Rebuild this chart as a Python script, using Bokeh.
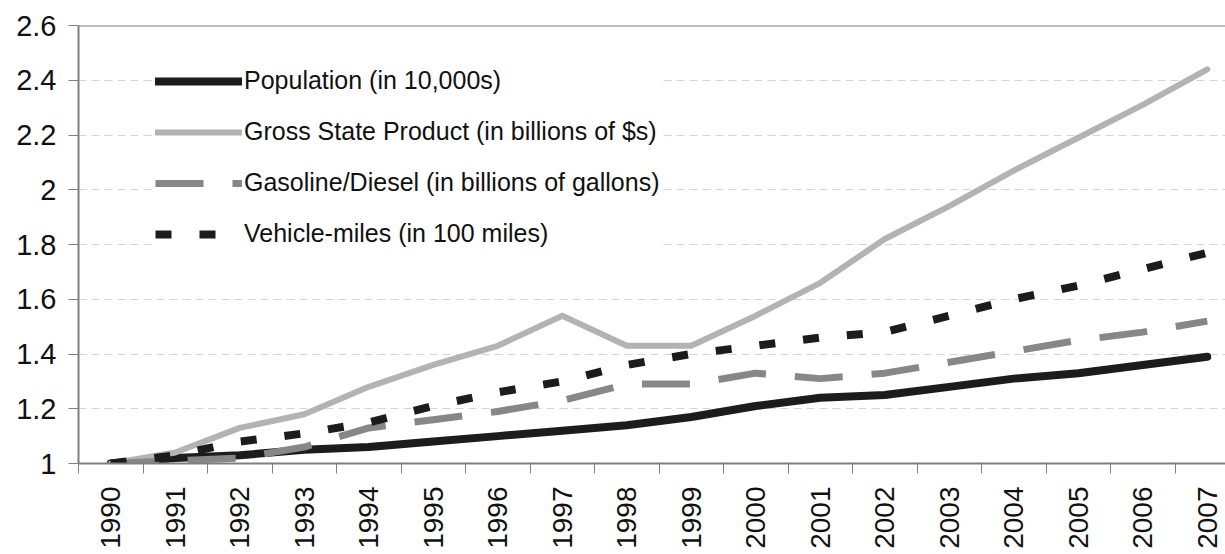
from bokeh.plotting import figure
from bokeh.models import Range1d, FixedTicker, CustomJSTickFormatter, Legend, LegendItem, Span
from bokeh.embed import file_html
from bokeh.resources import INLINE

years = list(range(1990, 2008))
population = [1.00, 1.02, 1.03, 1.05, 1.06, 1.08, 1.10, 1.12, 1.14, 1.17, 1.21, 1.24, 1.25, 1.28, 1.31, 1.33, 1.36, 1.39]
gsp = [1.00, 1.04, 1.13, 1.18, 1.28, 1.36, 1.43, 1.54, 1.43, 1.43, 1.54, 1.66, 1.82, 1.94, 2.07, 2.19, 2.31, 2.44]
gasoline = [1.00, 1.01, 1.02, 1.06, 1.13, 1.16, 1.19, 1.23, 1.29, 1.29, 1.33, 1.31, 1.33, 1.37, 1.41, 1.45, 1.48, 1.52]
vehicle = [1.00, 1.03, 1.08, 1.11, 1.15, 1.21, 1.26, 1.30, 1.36, 1.40, 1.43, 1.46, 1.48, 1.54, 1.60, 1.65, 1.71, 1.77]
y_ticks = [1.0, 1.2, 1.4, 1.6, 1.8, 2.0, 2.2, 2.4, 2.6]
labels = ["Population (in 10,000s)", "Gross State Product (in billions of $s)",
          "Gasoline/Diesel (in billions of gallons)", "Vehicle-miles (in 100 miles)"]

FONT = "Liberation Sans"
AXIS_GRAY = "#7f7f7f"

W, H = 1225, 554
LEFT, TOP, BOTTOM = 78, 25, 91
p = figure(width=W, height=H, output_backend="svg", toolbar_location=None,
           x_range=Range1d(1989.5, 1989.5 + (W - LEFT) / 64.5), y_range=Range1d(1.0, 2.6),
           min_border_left=LEFT, min_border_right=0, min_border_top=TOP, min_border_bottom=BOTTOM)
p.outline_line_color = None
p.background_fill_color = "white"
p.border_fill_color = "white"

# x axis
p.xaxis.ticker = FixedTicker(ticks=years, minor_ticks=[y - 0.5 for y in years] + [years[-1] + 0.5])
p.xaxis.major_label_orientation = 1.5707963
p.xaxis.major_tick_line_color = None
p.xaxis.major_tick_out = 10
p.xaxis.major_tick_in = 0
p.xaxis.minor_tick_out = 10
p.xaxis.minor_tick_in = 0
p.xaxis.minor_tick_line_color = AXIS_GRAY
p.xaxis.minor_tick_line_width = 1
p.xaxis.major_label_standoff = 13
p.xaxis.major_label_text_font = FONT
p.xaxis.major_label_text_font_size = "28px"
p.xaxis.major_label_text_color = "#111111"
p.xaxis.axis_line_color = AXIS_GRAY
p.xaxis.axis_line_width = 2

# y axis
p.yaxis.ticker = FixedTicker(ticks=y_ticks)
p.yaxis.formatter = CustomJSTickFormatter(code="return Number(tick.toFixed(1)).toString();")
p.yaxis.major_tick_out = 10
p.yaxis.major_tick_in = 0
p.yaxis.minor_tick_line_color = None
p.yaxis.major_tick_line_color = AXIS_GRAY
p.yaxis.major_label_standoff = 12
p.yaxis.major_label_text_font = FONT
p.yaxis.major_label_text_font_size = "29px"
p.yaxis.major_label_text_color = "#111111"
p.yaxis.axis_line_color = AXIS_GRAY
p.yaxis.axis_line_width = 2

p.xgrid.grid_line_color = None
p.ygrid.ticker = FixedTicker(ticks=y_ticks[1:-1])
p.ygrid.grid_line_color = "#d4d4d4"
p.ygrid.grid_line_dash = "8 5"
p.ygrid.grid_line_width = 1

top = Span(location=2.6, dimension="width", line_color=AXIS_GRAY, line_width=2)
p.add_layout(top)

r1 = p.line(years, population, line_color="#1c1c1c", line_width=8, line_cap="round", line_join="round")
r2 = p.line(years, gsp, line_color="#b3b3b3", line_width=6, line_cap="round", line_join="round")
r3 = p.line(years, gasoline, line_color="#878787", line_width=7, line_dash="48 29", line_join="round")
r4 = p.line(years, vehicle, line_color="#1c1c1c", line_width=8, line_dash="16 28", line_join="round")

legend = Legend(items=[LegendItem(label=labels[0], renderers=[r1]),
                       LegendItem(label=labels[1], renderers=[r2]),
                       LegendItem(label=labels[2], renderers=[r3]),
                       LegendItem(label=labels[3], renderers=[r4])],
                location=(77, 215))
legend.margin = 0
legend.padding = 10
legend.glyph_width = 87
legend.glyph_height = 24
legend.label_height = 24
legend.spacing = 22
legend.label_standoff = 2
legend.label_text_font = FONT
legend.label_text_font_size = "25px"
legend.label_text_color = "#111111"
legend.border_line_color = None
legend.background_fill_color = "white"
legend.background_fill_alpha = 1.0
p.add_layout(legend)

open("out.html", "w").write(file_html(p, INLINE))
